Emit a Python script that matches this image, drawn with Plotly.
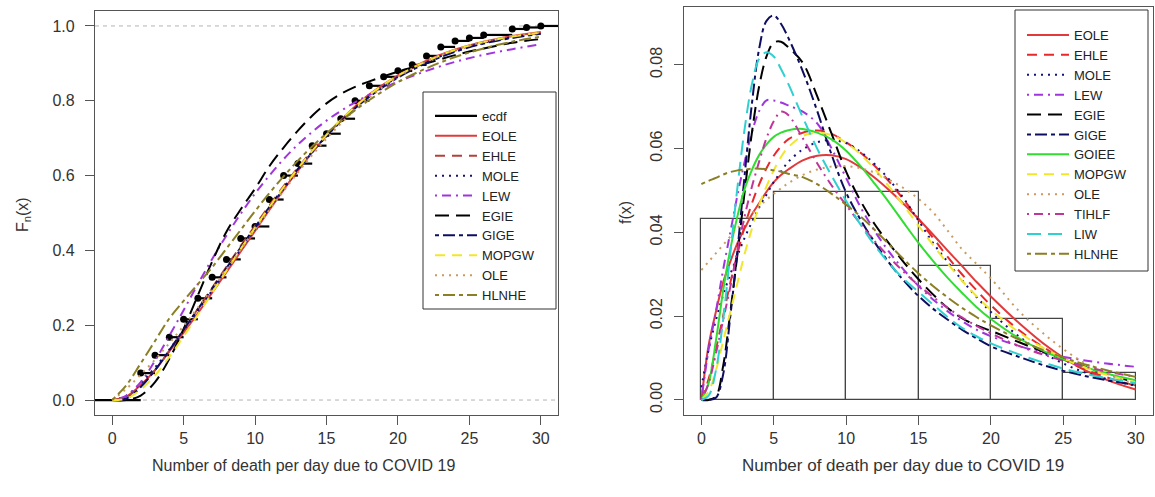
import plotly.graph_objects as go

# ---------------- data ----------------
# left panel: empirical cdf (jump points) and fitted cdfs
ecdf_x = [2, 3, 4, 5, 6, 7, 8, 9, 10, 11, 12, 13, 14, 15, 16, 17, 18, 19, 20,
          21, 22, 23, 24, 25, 26, 28, 29, 30]
ecdf_y = [0.072, 0.120, 0.168, 0.216, 0.272, 0.328, 0.376, 0.432, 0.464, 0.536,
          0.600, 0.632, 0.680, 0.712, 0.752, 0.800, 0.840, 0.864, 0.880, 0.896,
          0.920, 0.944, 0.960, 0.968, 0.976, 0.992, 0.996, 1.000]

cdf_x = [0, 1, 2, 3, 4, 5, 6, 7, 8, 9, 10, 11, 12, 13, 14, 15, 16, 17, 18,
         20, 22, 24, 26, 28, 30]
cdf_eole = [0, 0.010, 0.040, 0.080, 0.130, 0.180, 0.232, 0.287, 0.342, 0.397, 0.452,
            0.508, 0.562, 0.613, 0.662, 0.707, 0.748, 0.785, 0.817, 0.868, 0.907,
            0.937, 0.958, 0.973, 0.984]
cdf_ehle = [0, 0.008, 0.038, 0.080, 0.132, 0.188, 0.244, 0.300, 0.356, 0.412, 0.466,
            0.520, 0.572, 0.621, 0.667, 0.709, 0.748, 0.783, 0.814, 0.865, 0.904,
            0.934, 0.956, 0.971, 0.981]
cdf_mole = [0, 0.012, 0.045, 0.087, 0.135, 0.186, 0.239, 0.293, 0.348, 0.403, 0.457,
            0.512, 0.565, 0.615, 0.662, 0.705, 0.745, 0.781, 0.812, 0.864, 0.903,
            0.933, 0.955, 0.970, 0.980]
cdf_lew = [0, 0.012, 0.048, 0.105, 0.172, 0.240, 0.310, 0.377, 0.440, 0.498, 0.552,
           0.600, 0.644, 0.683, 0.717, 0.747, 0.773, 0.796, 0.816, 0.851, 0.880,
           0.904, 0.923, 0.938, 0.951]
cdf_egie = [0, 0, 0.012, 0.048, 0.110, 0.190, 0.280, 0.370, 0.450, 0.510, 0.565,
            0.625, 0.675, 0.720, 0.760, 0.793, 0.818, 0.837, 0.852, 0.878, 0.900,
            0.922, 0.940, 0.955, 0.965]
cdf_gige = [0, 0.004, 0.035, 0.080, 0.133, 0.188, 0.243, 0.298, 0.353, 0.408, 0.462,
            0.516, 0.568, 0.618, 0.664, 0.706, 0.745, 0.780, 0.811, 0.862, 0.901,
            0.931, 0.953, 0.968, 0.979]
cdf_mopgw = [0, 0.004, 0.028, 0.066, 0.115, 0.170, 0.228, 0.287, 0.346, 0.404, 0.461,
             0.516, 0.569, 0.619, 0.666, 0.709, 0.749, 0.784, 0.816, 0.867, 0.906,
             0.936, 0.957, 0.972, 0.982]
cdf_ole = [0, 0.030, 0.068, 0.108, 0.152, 0.198, 0.247, 0.298, 0.350, 0.403, 0.456,
           0.508, 0.559, 0.608, 0.655, 0.699, 0.739, 0.776, 0.809, 0.864, 0.905,
           0.936, 0.958, 0.973, 0.983]
cdf_hlnhe = [0, 0.040, 0.098, 0.158, 0.218, 0.265, 0.310, 0.355, 0.405, 0.455, 0.505,
             0.553, 0.598, 0.640, 0.678, 0.713, 0.745, 0.775, 0.802, 0.850, 0.887,
             0.917, 0.940, 0.958, 0.971]

# right panel: histogram (density) and fitted pdfs
bin_edges = [0, 5, 10, 15, 20, 25, 30]
hist_density = [0.0432, 0.0496, 0.0496, 0.0320, 0.0192, 0.0064]

pdf_x = [0, 0.5, 1, 1.5, 2, 2.5, 3, 3.5, 4, 4.5, 5, 5.5, 6, 7, 8, 9, 10, 11, 12,
         13, 14, 15, 16, 17, 18, 19, 20, 22, 24, 26, 28, 30]
pdf_eole = [0, 0.013, 0.021, 0.028, 0.033, 0.0375, 0.041, 0.0443, 0.047, 0.0497,
            0.052, 0.0537, 0.055, 0.0572, 0.0583, 0.0584, 0.0575, 0.0555, 0.053,
            0.050, 0.0467, 0.0432, 0.0395, 0.0357, 0.032, 0.0282, 0.0247, 0.0182,
            0.0125, 0.008, 0.0048, 0.0025]
pdf_ehle = [0, 0.005, 0.012, 0.020, 0.028, 0.035, 0.0415, 0.047, 0.0515, 0.0553,
            0.0583, 0.0605, 0.0622, 0.0638, 0.0643, 0.0635, 0.0615, 0.059, 0.0558,
            0.052, 0.0477, 0.0432, 0.0387, 0.0342, 0.030, 0.0262, 0.0226, 0.0165,
            0.0118, 0.008, 0.0054, 0.0034]
pdf_mole = [0.003, 0.012, 0.019, 0.025, 0.030, 0.0345, 0.0388, 0.0425, 0.046, 0.049,
            0.052, 0.0545, 0.0568, 0.0598, 0.0615, 0.062, 0.0613, 0.0592, 0.0562,
            0.0525, 0.048, 0.0428, 0.0375, 0.033, 0.0286, 0.0246, 0.021, 0.015,
            0.0105, 0.0072, 0.005, 0.0034]
pdf_lew = [0, 0.012, 0.021, 0.031, 0.040, 0.049, 0.057, 0.064, 0.069, 0.0715,
           0.0715, 0.071, 0.0703, 0.0688, 0.066, 0.060, 0.053, 0.046, 0.0402,
           0.0352, 0.031, 0.0272, 0.024, 0.0212, 0.0188, 0.0168, 0.0152, 0.0128,
           0.011, 0.0097, 0.0087, 0.0079]
pdf_egie = [0, 0, 0.0008, 0.008, 0.021, 0.035, 0.050, 0.064, 0.075, 0.082, 0.0853,
            0.0855, 0.0842, 0.0805, 0.0725, 0.0635, 0.0545, 0.0475, 0.0418, 0.0372,
            0.0328, 0.0288, 0.0252, 0.022, 0.0195, 0.0178, 0.0165, 0.0137, 0.011,
            0.0085, 0.0062, 0.0042]
pdf_gige = [0, 0, 0.0005, 0.006, 0.020, 0.036, 0.054, 0.071, 0.084, 0.0905, 0.0918,
            0.0898, 0.0865, 0.0785, 0.069, 0.0585, 0.0495, 0.043, 0.0375, 0.0326,
            0.0284, 0.0248, 0.0218, 0.0192, 0.0168, 0.0147, 0.0128, 0.0102, 0.0079,
            0.0061, 0.0047, 0.0036]
pdf_goiee = [0, 0.004, 0.014, 0.026, 0.036, 0.044, 0.0505, 0.055, 0.0585, 0.061,
             0.0628, 0.0638, 0.0644, 0.0647, 0.0638, 0.0622, 0.0595, 0.0558, 0.0515,
             0.047, 0.0422, 0.0375, 0.0332, 0.0292, 0.0256, 0.0222, 0.0193, 0.0146,
             0.0111, 0.0084, 0.0063, 0.0047]
pdf_mopgw = [0, 0.002, 0.007, 0.014, 0.021, 0.028, 0.035, 0.041, 0.0465, 0.051,
             0.0548, 0.058, 0.0603, 0.063, 0.0638, 0.0632, 0.0614, 0.0586, 0.055,
             0.0508, 0.0463, 0.0416, 0.037, 0.0326, 0.0285, 0.0248, 0.0215, 0.016,
             0.0117, 0.0084, 0.006, 0.0042]
pdf_ole = [0.031, 0.033, 0.035, 0.037, 0.039, 0.041, 0.0428, 0.0445, 0.0462, 0.0478,
           0.0492, 0.0505, 0.0517, 0.0537, 0.055, 0.0557, 0.0558, 0.0553, 0.0542,
           0.0525, 0.0505, 0.048, 0.0448, 0.0405, 0.036, 0.0325, 0.029, 0.021,
           0.0148, 0.0098, 0.0062, 0.0038]
pdf_tihlf = [0, 0.004, 0.011, 0.019, 0.027, 0.036, 0.044, 0.051, 0.057, 0.0625,
             0.0665, 0.0688, 0.068, 0.0625, 0.0565, 0.0512, 0.0465, 0.042, 0.0378,
             0.034, 0.0305, 0.0274, 0.0246, 0.022, 0.0197, 0.0177, 0.0159, 0.0128,
             0.0104, 0.0084, 0.0068, 0.0055]
pdf_liw = [0, 0.001, 0.007, 0.019, 0.035, 0.051, 0.065, 0.0755, 0.0815, 0.083, 0.082,
           0.079, 0.0755, 0.0675, 0.060, 0.0535, 0.0475, 0.0418, 0.0368, 0.0325,
           0.0288, 0.0258, 0.0228, 0.0198, 0.0172, 0.0152, 0.0135, 0.0108, 0.0085,
           0.0066, 0.0052, 0.004]
pdf_hlnhe = [0.0515, 0.0523, 0.053, 0.0538, 0.0544, 0.0548, 0.055, 0.0552, 0.0552,
             0.0551, 0.0548, 0.0545, 0.054, 0.0532, 0.0515, 0.0492, 0.0466, 0.0438,
             0.0405, 0.037, 0.0335, 0.0302, 0.0272, 0.0245, 0.022, 0.0198, 0.0178,
             0.0143, 0.0114, 0.009, 0.0071, 0.0055]

x_title = "Number of death per day due to COVID 19"
x_range = [-1.2, 31.2]

FONT = "Liberation Sans, Arial, sans-serif"

# line styles (R lty look-alikes)
SOLID = "solid"
DASHED = "10px,7px"
DOTTED = "2px,5px"
DOTDASH = "2px,5px,9px,5px"
LONGDASH = "14px,7px"
TWODASH = "4px,4px,12px,4px"

left_curves = [
    ("EOLE", cdf_eole, "#E23A3A", SOLID),
    ("EHLE", cdf_ehle, "#B5403A", DASHED),
    ("MOLE", cdf_mole, "#12127E", DOTTED),
    ("LEW", cdf_lew, "#A035DD", DOTDASH),
    ("EGIE", cdf_egie, "#000000", LONGDASH),
    ("GIGE", cdf_gige, "#0E0E60", TWODASH),
    ("MOPGW", cdf_mopgw, "#F2E62A", DASHED),
    ("OLE", cdf_ole, "#C99B60", DOTTED),
    ("HLNHE", cdf_hlnhe, "#8A7F24", TWODASH),
]

right_curves = [
    ("EOLE", pdf_eole, "#E23A3A", SOLID),
    ("EHLE", pdf_ehle, "#E8282B", DASHED),
    ("MOLE", pdf_mole, "#12127E", DOTTED),
    ("LEW", pdf_lew, "#A035DD", DOTDASH),
    ("EGIE", pdf_egie, "#000000", LONGDASH),
    ("GIGE", pdf_gige, "#0E0E60", TWODASH),
    ("GOIEE", pdf_goiee, "#30DD30", SOLID),
    ("MOPGW", pdf_mopgw, "#F2E62A", DASHED),
    ("OLE", pdf_ole, "#C99B60", DOTTED),
    ("TIHLF", pdf_tihlf, "#BE359C", DOTDASH),
    ("LIW", pdf_liw, "#2ED0D0", LONGDASH),
    ("HLNHE", pdf_hlnhe, "#8A7F24", TWODASH),
]

fig = go.Figure()

# ---- left: ecdf as horizontal steps + dots ----
seg_x, seg_y = [x_range[0], ecdf_x[0], None], [0, 0, None]
for i, xv in enumerate(ecdf_x):
    nxt = ecdf_x[i + 1] if i + 1 < len(ecdf_x) else x_range[1]
    seg_x += [xv, nxt, None]
    seg_y += [ecdf_y[i], ecdf_y[i], None]

fig.add_trace(go.Scatter(x=seg_x, y=seg_y, mode="lines", name="ecdf",
                         line=dict(color="black", width=2.2),
                         xaxis="x", yaxis="y", legend="legend"))
fig.add_trace(go.Scatter(x=ecdf_x, y=ecdf_y, mode="markers", showlegend=False,
                         marker=dict(color="black", size=7),
                         xaxis="x", yaxis="y"))

for name, ys, col, dash in left_curves:
    fig.add_trace(go.Scatter(x=cdf_x, y=ys, mode="lines", name=name,
                             line=dict(color=col, width=2, dash=dash, shape="spline"),
                             xaxis="x", yaxis="y", legend="legend"))

# ---- right: histogram + pdfs ----
mids = [(bin_edges[i] + bin_edges[i + 1]) / 2 for i in range(len(hist_density))]
widths = [bin_edges[i + 1] - bin_edges[i] for i in range(len(hist_density))]
fig.add_trace(go.Bar(x=mids, y=hist_density, width=widths, showlegend=False,
                     marker=dict(color="rgba(0,0,0,0)", line=dict(color="#444", width=1.2)),
                     xaxis="x2", yaxis="y2"))

for name, ys, col, dash in right_curves:
    fig.add_trace(go.Scatter(x=pdf_x, y=ys, mode="lines", name=name,
                             line=dict(color=col, width=2, dash=dash, shape="spline"),
                             xaxis="x2", yaxis="y2", legend="legend2"))

# gray dashed reference lines at 0 and 1 on the ecdf panel
for yv in (min(ecdf_y + [0]), max(ecdf_y)):
    fig.add_shape(type="line", xref="x domain", yref="y", x0=0, x1=1, y0=yv, y1=yv,
                  line=dict(color="#b5b5b5", width=1, dash="4px,4px"), layer="below")

# legend frames (R style boxes, wider than plotly's own)
legend_boxes = [(423, 92, 556, 309), (1015, 10, 1148, 271)]
for x0, y0, x1, y1 in legend_boxes:
    fig.add_shape(type="rect", xref="paper", yref="paper",
                  x0=x0 / 1155, x1=x1 / 1155, y0=(497 - y1) / 497, y1=(497 - y0) / 497,
                  line=dict(color="#333", width=1), fillcolor="white", layer="above")

axis_common = dict(showline=True, mirror=True, linecolor="#555", linewidth=1.2,
                   ticks="outside", ticklen=9, tickcolor="#555", showgrid=False,
                   zeroline=False, automargin=False,
                   tickfont=dict(size=16, color="#333"))

# axis titles as annotations (placed like the original)
titles = [
    dict(text=x_title, x=303 / 1155, y=(497 - 465) / 497, textangle=0, size=16),
    dict(text=x_title, x=903 / 1155, y=(497 - 465) / 497, textangle=0, size=17),
    dict(text="F<sub>n</sub>(x)", x=24 / 1155, y=(497 - 215) / 497, textangle=-90, size=16),
    dict(text="f(x)", x=625 / 1155, y=(497 - 213) / 497, textangle=-90, size=16),
]
annotations = [dict(text=t["text"], x=t["x"], y=t["y"], xref="paper", yref="paper",
                    showarrow=False, textangle=t["textangle"], xanchor="center",
                    yanchor="middle", font=dict(size=t["size"], color="#333"))
               for t in titles]

legend_common = dict(xanchor="left", yanchor="top", borderwidth=0,
                     bgcolor="rgba(0,0,0,0)", font=dict(size=13, color="#222"),
                     tracegroupgap=0, itemwidth=42)

fig.update_layout(
    width=1155, height=497,
    margin=dict(l=0, r=0, t=0, b=0, autoexpand=False),
    paper_bgcolor="white", plot_bgcolor="white",
    font=dict(family=FONT, size=16, color="#222"),
    bargap=0,
    annotations=annotations,
    xaxis=dict(domain=[95 / 1155, 558 / 1155], range=x_range, tickvals=bin_edges,
               anchor="y", **axis_common),
    yaxis=dict(domain=[82 / 497, 486 / 497], range=[-0.04, 1.04],
               tickvals=[0, 0.2, 0.4, 0.6, 0.8, 1.0], tickformat=".1f", anchor="x",
               ticklabelstandoff=7, **axis_common),
    xaxis2=dict(domain=[684 / 1155, 1153 / 1155], range=x_range, tickvals=bin_edges,
                anchor="y2", **axis_common),
    yaxis2=dict(domain=[82 / 497, 490 / 497], range=[-0.0036, 0.0938],
                tickvals=[0, 0.02, 0.04, 0.06, 0.08], tickformat=".2f", tickangle=-90,
                anchor="x2", ticklabelstandoff=6, **axis_common),
    legend=dict(x=430 / 1155, y=(497 - 101) / 497, **legend_common),
    legend2=dict(x=1022 / 1155, y=(497 - 20) / 497, **legend_common),
)

# the page's default body margin would shift the figure; remove it
fig.write_html("out.html", config={"displayModeBar": False},
               post_script="document.body.style.margin='0';")
